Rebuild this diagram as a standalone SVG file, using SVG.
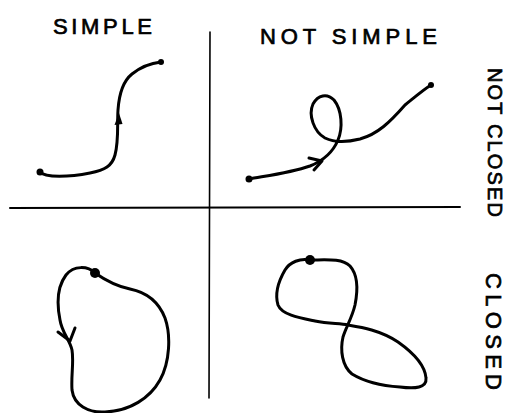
<svg xmlns="http://www.w3.org/2000/svg" width="509" height="413" viewBox="0 0 509 413">
  <style>
    .curve { fill: none; stroke: #000; stroke-width: 3; stroke-linecap: round; stroke-linejoin: round; }
    .axis { fill: none; stroke: #000; stroke-linecap: round; }
    .lbl { font-family: "Liberation Sans", Arial, sans-serif; font-size: 22px; fill: #000; stroke: #000; stroke-width: 0.7; }
    .dot { fill: #000; }
  </style>
  <rect width="509" height="413" fill="#fff"/>

  <g id="axes">
    <path class="axis" stroke-width="2" d="M10,208 L460,207"/>
    <path class="axis" stroke-width="1.6" d="M210,32 L209,398"/>
  </g>

  <g id="labels">
    <text class="lbl" x="53" y="34" textLength="99" lengthAdjust="spacing">SIMPLE</text>
    <text class="lbl" x="260" y="44" textLength="177" lengthAdjust="spacing">NOT SIMPLE</text>
    <text class="lbl" style="font-size:20px" transform="translate(488,68) rotate(90)" textLength="149" lengthAdjust="spacing">NOT CLOSED</text>
    <text class="lbl" transform="translate(486,273) rotate(90)" textLength="117" lengthAdjust="spacing">CLOSED</text>
  </g>

  <g id="simple-open">
    <path class="curve" d="M40,172 C45,178 70,177 90,173 C105,170 112,166 115,155 C119,140 117,125 118,110 C119,95 122,82 132,74 C142,66 152,63 161,62"/>
    <circle class="dot" cx="40" cy="172" r="3.5"/>
    <circle class="dot" cx="161" cy="62" r="3"/>
    <path class="dot" d="M114.5,125 L119,113 L122.5,124 Z"/>
  </g>

  <g id="notsimple-open">
    <path class="curve" d="M249,179 C265,176 290,173 310,166 C325,160 333,152 338,140 C343,128 342,110 334,100 C327,93 318,95 313,104 C308,115 314,132 325,138 C335,143 348,142 360,139 C378,134 390,122 405,105 C415,97 423,90 431,85"/>
    <circle class="dot" cx="249" cy="179" r="3.5"/>
    <circle class="dot" cx="431" cy="85" r="3"/>
    <path class="curve" stroke-width="2.5" d="M309,158 L322,161 L314,170"/>
  </g>

  <g id="simple-closed">
    <path class="curve" d="M95,273 C88,266 74,265 66,275 C57,287 57,305 60,320 C62,333 70,340 72,350 C74,362 71,375 72,390 C74,405 88,413 105,412 C130,411 150,398 160,380 C170,362 171,335 165,318 C158,300 145,292 130,289 C115,286 105,280 95,273 Z"/>
    <circle class="dot" cx="95" cy="273" r="5"/>
    <path class="curve" stroke-width="2.5" d="M58,332 L70,341 L75,328"/>
  </g>

  <g id="notsimple-closed">
    <path class="curve" d="M310,260 C300,258 290,262 285,270 C278,282 275,295 278,305 C282,315 300,318 315,321 C330,324 340,323 348,325 C360,327 380,330 398,342 C415,354 425,365 426,378 C427,388 415,389 400,387 C385,386 365,382 352,374 C342,366 340,350 343,337 C346,327 352,318 355,305 C358,290 358,275 350,266 C342,258 325,260 310,260 Z"/>
    <circle class="dot" cx="310" cy="260" r="5"/>
  </g>
</svg>
